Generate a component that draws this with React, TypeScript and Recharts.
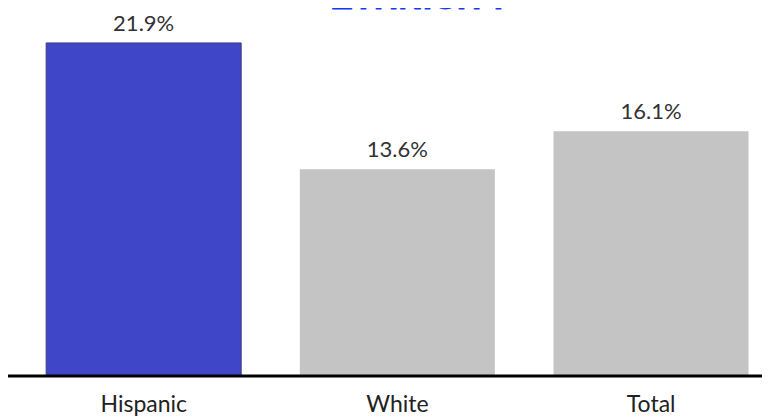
import React from "react";
import { BarChart, Bar, XAxis, YAxis, Cell, LabelList } from "recharts";

const categories = ["Hispanic", "White", "Total"];
const values = [21.9, 13.6, 16.1];
const barColors = ["#3f46c8", "#c4c4c4", "#c4c4c4"];
const barStrokes = ["#3a3d7a", "none", "none"];
const title = "ETHNICITY";

const data = categories.map((c, i) => ({ name: c, value: values[i] }));

const FONT = "Lato, 'Open Sans', sans-serif";

const Tick = (props: any) => {
  const { x, y, payload } = props;
  return (
    <text x={x} y={y + 36} textAnchor="middle" fill="#222" fontSize={23} fontFamily={FONT}>
      {payload.value}
    </text>
  );
};

export default function App() {
  return (
    <div style={{ position: "relative", width: 762, height: 410 }}>
      <div
        style={{
          position: "absolute",
          top: -28,
          left: 412,
          transform: "translateX(-50%)",
          whiteSpace: "nowrap",
          fontFamily: "Arial, 'Liberation Sans', sans-serif",
          fontWeight: 700,
          fontSize: 34,
          lineHeight: "34px",
          color: "#0f3cf2",
          WebkitTextStroke: "0.8px #0f3cf2",
          zIndex: 2,
        }}
      >
        {title}
      </div>
      <div style={{ width: 762, height: 410, overflow: "hidden" }}>
        <BarChart
          width={770}
          height={410}
          data={data}
          margin={{ top: 3, right: 0, bottom: 0, left: 0 }}
          barCategoryGap="11.5%"
        >
          <XAxis
            dataKey="name"
            height={42}
            axisLine={{ stroke: "#000", strokeWidth: 3 }}
            tickLine={false}
            tickSize={0}
            tickMargin={0}
            padding={{ left: 9, right: 0 }}
            tick={<Tick />}
            interval={0}
          />
          <YAxis hide domain={[0, 24]} />
          <Bar dataKey="value" isAnimationActive={false}>
            {data.map((d, i) => (
              <Cell key={d.name} fill={barColors[i]} stroke={barStrokes[i]} strokeWidth={1} />
            ))}
            <LabelList
              dataKey="value"
              position="top"
              offset={12}
              formatter={(v: any) => `${v}%`}
              fill="#333"
              fontSize={22}
              fontFamily={FONT}
            />
          </Bar>
        </BarChart>
      </div>
    </div>
  );
}
